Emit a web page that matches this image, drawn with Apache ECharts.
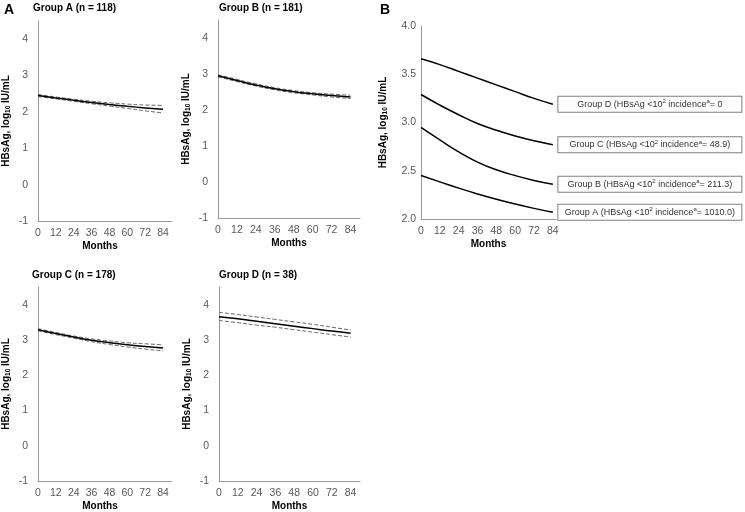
<!DOCTYPE html>
<html><head><meta charset="utf-8">
<script src="https://cdn.jsdelivr.net/npm/echarts@6/dist/echarts.min.js"></script>
<style>html,body{margin:0;padding:0;background:#fff}#c{width:745px;height:512px}</style>
</head><body><div id="c"></div>
<script>
const months = [0, 12, 24, 36, 48, 60, 72, 84];
const groupA = [2.45, 2.385, 2.32, 2.26, 2.205, 2.155, 2.11, 2.07];
const groupA_up = [2.48, 2.41, 2.35, 2.295, 2.25, 2.215, 2.19, 2.18];
const groupA_lo = [2.42, 2.36, 2.29, 2.225, 2.16, 2.095, 2.03, 1.97];
const groupB = [2.95, 2.82, 2.695, 2.59, 2.51, 2.45, 2.40, 2.36];
const groupB_up = [2.98, 2.85, 2.725, 2.62, 2.54, 2.48, 2.44, 2.41];
const groupB_lo = [2.92, 2.79, 2.665, 2.56, 2.48, 2.42, 2.36, 2.32];
const groupC = [3.29, 3.18, 3.08, 2.99, 2.92, 2.86, 2.81, 2.77];
const groupC_up = [3.32, 3.21, 3.11, 3.03, 2.97, 2.92, 2.89, 2.86];
const groupC_lo = [3.26, 3.15, 3.05, 2.95, 2.87, 2.80, 2.74, 2.69];
const groupD = [3.66, 3.60, 3.53, 3.46, 3.39, 3.32, 3.25, 3.19];
const groupD_up = [3.78, 3.72, 3.65, 3.58, 3.51, 3.44, 3.36, 3.28];
const groupD_lo = [3.55, 3.49, 3.42, 3.36, 3.29, 3.22, 3.15, 3.08];
const panelTitles = ['Group A (n = 118)', 'Group B (n = 181)', 'Group C (n = 178)', 'Group D (n = 38)'];
const groupLetters = ['A', 'B', 'C', 'D'];
const incidenceText = ['1010.0)', '211.3)', '48.9)', '0'];
const yTicksSmall = [-1, 0, 1, 2, 3, 4];
const xTicks = [0, 12, 24, 36, 48, 60, 72, 84];

const FONT = '"Liberation Sans", Arial, sans-serif';
const mids = [groupA, groupB, groupC, groupD];
const ups = [groupA_up, groupB_up, groupC_up, groupD_up];
const los = [groupA_lo, groupB_lo, groupC_lo, groupD_lo];
const pairs = v => months.map((m, i) => [m, v[i]]);

const grids = [
  {left: 32, top: 21, width: 140, height: 200},
  {left: 218, top: 20, width: 142, height: 198},
  {left: 31, top: 287, width: 141, height: 194},
  {left: 219, top: 287, width: 141, height: 194},
  {left: 421, top: 26, width: 135, height: 193}
];

const yName = '{b|HBsAg, log}{s|10}{b| IU/mL}';
const yNameStyle = {rich: {
  b: {fontFamily: FONT, fontWeight: 'bold', fontSize: 10, color: '#000', lineHeight: 12},
  s: {fontFamily: FONT, fontWeight: 'bold', fontSize: 6.5, color: '#000', lineHeight: 5, verticalAlign: 'bottom'}
}};
const axisLine = {show: true, onZero: false, lineStyle: {color: '#999', width: 1}};
const lblStyle = {color: '#595959', fontSize: 10.5, fontFamily: FONT};

const xAxes = [], yAxes = [], series = [];
for (let g = 0; g < 5; g++) {
  const isB = g === 4;
  xAxes.push({
    type: 'value', gridIndex: g, min: 0, max: isB ? 86 : 90, interval: 12,
    axisLine: axisLine, axisTick: {show: false}, splitLine: {show: false},
    axisLabel: Object.assign({}, lblStyle, {margin: 7, formatter: v => xTicks.includes(v) ? String(v) : ''}),
    name: 'Months', nameLocation: 'middle', nameGap: 20,
    nameTextStyle: {fontFamily: FONT, fontWeight: 'bold', fontSize: 10, color: '#000', padding: (g === 0 || g === 2) ? [0, 10, 0, 0] : 0}
  });
  yAxes.push({
    type: 'value', gridIndex: g,
    min: isB ? 2 : -1, max: isB ? 4 : 4.5, interval: isB ? 0.5 : 1,
    axisLine: axisLine, axisTick: {show: false}, splitLine: {show: false},
    axisLabel: Object.assign({}, lblStyle, {margin: isB ? 5 : 10,
      formatter: isB ? (v => v.toFixed(1)) : (v => yTicksSmall.includes(v) ? String(v) : '')}),
    name: yName, nameLocation: 'middle', nameGap: isB ? 32 : 26, nameTextStyle: yNameStyle
  });
}

for (let g = 0; g < 4; g++) {
  ['up', 'lo'].forEach(k => {
    series.push({
      type: 'line', xAxisIndex: g, yAxisIndex: g, smooth: 0.5, symbol: 'none',
      data: pairs(k === 'up' ? ups[g] : los[g]),
      lineStyle: {color: '#666', width: 1, type: [4, 2]}
    });
  });
  series.push({
    type: 'line', xAxisIndex: g, yAxisIndex: g, smooth: 0.5, symbol: 'none',
    data: pairs(mids[g]), lineStyle: {color: '#000', width: 1.5}
  });
}

const tStyle = {fontFamily: FONT, fontSize: 9, color: '#333'};
for (let g = 0; g < 4; g++) {
  const txt = '{t|Group ' + groupLetters[g] + ' (HBsAg <10}{p|2}{t| incidence}{p|a}{t|= ' + incidenceText[g] + '}';
  series.push({
    type: 'line', xAxisIndex: 4, yAxisIndex: 4, smooth: 0.5, symbol: 'none',
    data: pairs(mids[g]), lineStyle: {color: '#000', width: 1.5},
    endLabel: {
      show: true, formatter: txt, distance: 97, align: 'center', verticalAlign: 'middle',
      width: 177, padding: [2, 3], borderColor: '#7f7f7f', borderWidth: 1, backgroundColor: '#fff',
      rich: {
        t: Object.assign({}, tStyle, {lineHeight: 11}),
        p: Object.assign({}, tStyle, {fontSize: 6, lineHeight: 6, verticalAlign: 'top'})
      }
    }
  });
}

const titleText = {fontFamily: FONT, fontWeight: 'bold', fontSize: 10, color: '#000'};
const option = {
  animation: false,
  backgroundColor: '#fff',
  title: [
    {text: 'A', left: 4, top: 3, padding: 0, textStyle: {fontFamily: FONT, fontWeight: 'bold', fontSize: 14, color: '#000'}},
    {text: 'B', left: 380, top: 3, padding: 0, textStyle: {fontFamily: FONT, fontWeight: 'bold', fontSize: 14, color: '#000'}},
    {text: panelTitles[0], left: 33, top: 3, padding: 0, textStyle: titleText},
    {text: panelTitles[1], left: 219, top: 3, padding: 0, textStyle: titleText},
    {text: panelTitles[2], left: 32, top: 270, padding: 0, textStyle: titleText},
    {text: panelTitles[3], left: 219, top: 270, padding: 0, textStyle: titleText}
  ],
  grid: grids,
  xAxis: xAxes,
  yAxis: yAxes,
  series: series
};
echarts.init(document.getElementById('c')).setOption(option);
</script></body></html>
